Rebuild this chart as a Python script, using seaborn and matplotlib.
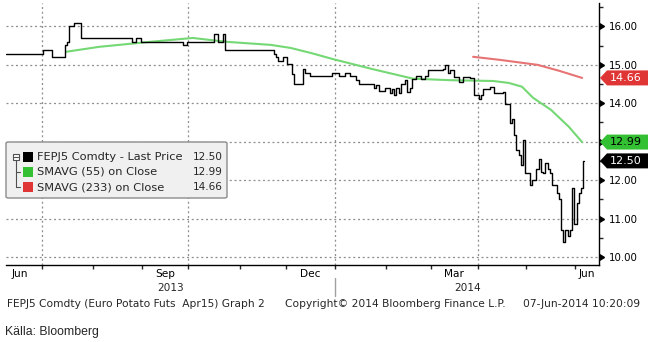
import numpy as np
import pandas as pd
import matplotlib
matplotlib.use("Agg")
import matplotlib.pyplot as plt
import matplotlib.transforms as mtransforms
import matplotlib.markers as mmarkers
from matplotlib.patches import FancyBboxPatch, Rectangle, Polygon
from matplotlib.lines import Line2D
import seaborn as sns

# ---------------- data ----------------
price_dates = [
    "2013-06-07", "2013-07-02", "2013-07-08", "2013-07-16", "2013-07-17", "2013-07-18", "2013-07-22", "2013-07-25",
    "2013-08-27", "2013-08-29", "2013-09-02", "2013-09-27", "2013-10-01", "2013-10-17", "2013-10-21", "2013-10-23", "2013-10-24",
    "2013-11-25", "2013-11-26", "2013-11-27", "2013-11-29", "2013-12-03", "2013-12-05", "2013-12-06", "2013-12-12", "2013-12-13",
    "2013-12-17", "2013-12-18", "2013-12-31",
    "2014-01-03", "2014-01-08", "2014-01-10", "2014-01-15", "2014-01-16", "2014-01-21", "2014-01-27", "2014-01-28", "2014-01-29",
    "2014-02-03", "2014-02-05", "2014-02-06", "2014-02-07", "2014-02-10", "2014-02-11", "2014-02-12", "2014-02-14", "2014-02-17",
    "2014-02-18", "2014-02-19", "2014-02-21", "2014-02-25", "2014-02-27", "2014-02-28",
    "2014-03-11", "2014-03-12", "2014-03-13", "2014-03-14", "2014-03-18", "2014-03-20", "2014-03-24", "2014-03-27", "2014-03-31",
    "2014-04-02", "2014-04-03", "2014-04-04", "2014-04-09", "2014-04-11", "2014-04-17", "2014-04-18", "2014-04-22", "2014-04-23",
    "2014-04-24", "2014-04-25", "2014-04-28", "2014-04-29", "2014-04-30",
    "2014-05-01", "2014-05-05", "2014-05-06", "2014-05-08", "2014-05-09", "2014-05-12", "2014-05-13", "2014-05-14", "2014-05-15",
    "2014-05-16", "2014-05-19", "2014-05-21", "2014-05-22", "2014-05-23", "2014-05-26", "2014-05-27", "2014-05-28", "2014-05-29",
    "2014-05-30",
    "2014-06-02", "2014-06-03", "2014-06-04", "2014-06-05", "2014-06-06",
]
price_values = [
    15.29, 15.38, 15.20, 15.51, 15.59, 16.01, 16.09, 15.69,
    15.59, 15.69, 15.59, 15.52, 15.59, 15.81, 15.59, 15.81, 15.38,
    15.28, 15.20, 15.10, 15.20, 15.02, 14.77, 14.50, 14.89, 14.80, 14.71, 14.72, 14.78,
    14.72, 14.80, 14.72, 14.60, 14.50, 14.51, 14.40, 14.47, 14.33,
    14.40, 14.28, 14.38, 14.22, 14.39, 14.28, 14.50, 14.60, 14.30, 14.41, 14.63, 14.71, 14.63, 14.71, 14.87,
    14.90, 15.00, 14.80, 14.87, 14.69, 14.56, 14.69, 14.66, 14.22,
    14.12, 14.22, 14.38, 14.43, 14.26, 14.30, 13.98, 13.49, 13.60, 13.18, 12.79, 12.66, 12.40, 13.05,
    12.19, 11.88, 12.00, 12.29, 12.55, 12.21, 12.19, 12.45, 12.29, 12.19, 11.88, 11.67, 11.50, 10.70, 10.39, 10.70, 10.55, 10.70, 11.80,
    10.85, 11.40, 11.67, 11.80, 12.50,
]

sma55_dates = ["2013-07-16", "2013-08-06", "2013-09-06", "2013-10-03", "2013-10-24", "2013-11-21", "2013-12-04",
               "2013-12-17", "2013-12-31", "2014-01-23", "2014-02-19", "2014-03-14", "2014-04-10", "2014-04-21",
               "2014-04-29", "2014-05-06", "2014-05-16", "2014-05-28", "2014-06-05"]
sma55_values = [15.34, 15.47, 15.60, 15.70, 15.60, 15.52, 15.44, 15.31, 15.15, 14.90, 14.64, 14.60, 14.58, 14.53,
                14.43, 14.14, 13.83, 13.39, 12.99]

sma233_dates = ["2014-03-28", "2014-04-15", "2014-05-08", "2014-05-22", "2014-06-05"]
sma233_values = [15.21, 15.13, 15.00, 14.84, 14.66]

legend_labels = ["FEPJ5 Comdty - Last Price", "SMAVG (55) on Close", "SMAVG (233) on Close"]
last_values = [12.50, 12.99, 14.66]
series_colors = ["#000000", "#33c133", "#e03535"]
line_colors = ["#000000", "#74d874", "#e77474"]

y_ticks = [10, 11, 12, 13, 14, 15, 16]
y_minor = [10.5, 11.5, 12.5, 13.5, 14.5, 15.5, 16.5]
month_labels = {"2013-06": "Jun", "2013-09": "Sep", "2013-12": "Dec", "2014-03": "Mar", "2014-06": "Jun"}
quarter_lines = ["2013-07-01", "2013-10-01", "2014-01-01", "2014-04-01"]

footer_left = "FEPJ5 Comdty (Euro Potato Futs  Apr15) Graph 2"
footer_mid = "Copyright\u00a9 2014 Bloomberg Finance L.P."
footer_right = "07-Jun-2014 10:20:09"
source_text = "K\u00e4lla: Bloomberg"

# ---------------- trading-day axis ----------------
days = pd.bdate_range("2013-06-07", "2014-06-06")
ext_days = pd.bdate_range("2013-06-01", "2014-07-01")
offset = ext_days.get_loc(days[0])


def pos(ds):
    return ext_days.get_indexer(pd.to_datetime(ds)) - offset


x_max = len(days) - 1 + 6.6

price = pd.Series(price_values, index=pd.to_datetime(price_dates)).reindex(days).ffill()
df_price = pd.DataFrame({"x": np.arange(len(days)), "y": price.values})
df_s55 = pd.DataFrame({"x": pos(sma55_dates), "y": sma55_values})
df_s233 = pd.DataFrame({"x": pos(sma233_dates), "y": sma233_values})

# ---------------- figure ----------------
sns.set_style("white")
plt.rcParams["font.family"] = ["DejaVu Sans"]
W, H = 648, 342
fig = plt.figure(figsize=(W / 100, H / 100), dpi=100)
ax = fig.add_axes([6 / W, 1 - 265 / H, (599 - 6) / W, (265 - 3) / H])

sns.lineplot(data=df_s55, x="x", y="y", ax=ax, color=line_colors[1], lw=1.5, estimator=None, zorder=3)
sns.lineplot(data=df_s233, x="x", y="y", ax=ax, color=line_colors[2], lw=1.5, estimator=None, zorder=3)
sns.lineplot(data=df_price, x="x", y="y", ax=ax, color=line_colors[0], lw=1.0, estimator=None,
             drawstyle="steps-mid", zorder=4)

ax.set_xlim(0, x_max)
ax.set_ylim(9.79, 16.61)
ax.set_xlabel("")
ax.set_ylabel("")

# spines
for s in ["left", "top"]:
    ax.spines[s].set_visible(False)
for s in ["right", "bottom"]:
    ax.spines[s].set_color("black")
    ax.spines[s].set_linewidth(1.0)

# y axis on the right (the 13.00 label sits under the SMA tag in the reference)
ax.yaxis.tick_right()
ax.set_yticks(y_ticks)
ax.set_yticklabels(["" if v == 13 else f"{v:.2f}" for v in y_ticks])
ax.set_yticks(y_minor, minor=True)
ax.tick_params(axis="y", which="major", right=True, left=False, length=5, width=1, pad=2,
               labelsize=7.4, colors="black", direction="out")
ax.tick_params(axis="y", which="minor", right=True, left=False, length=3, width=1, direction="out")
for t in ax.yaxis.get_major_ticks():
    t.tick2line.set_marker(mmarkers.CARETRIGHTBASE)
    t.tick2line.set_markersize(5)

# x axis: month ticks + centered labels
month_first = ext_days.to_series().groupby(ext_days.to_period("M")).first()
starts = {str(p): (ext_days.get_loc(d) - offset) for p, d in month_first.items()}
tick_pos = [v for v in starts.values() if 0 < v < x_max]
ax.set_xticks(tick_pos)
ax.set_xticklabels([""] * len(tick_pos))
periods = list(starts.keys())
lab_pos, lab_txt = [], []
for i, p in enumerate(periods[:-1]):
    if p in month_labels:
        a = starts[p]
        b = min(starts[periods[i + 1]], x_max)
        lab_pos.append((a + b) / 2)
        lab_txt.append(month_labels[p])
ax.set_xticks(lab_pos, minor=True)
ax.set_xticklabels(lab_txt, minor=True)
ax.tick_params(axis="x", which="major", length=3, width=1, direction="out", bottom=True)
ax.tick_params(axis="x", which="minor", length=0, pad=3, labelsize=7.6, colors="black")

# grid
for v in y_ticks:
    ax.axhline(v, color="#8f8f8f", lw=0.9, ls=(0, (1.6, 2.2)), zorder=1)
for q in pos(quarter_lines):
    ax.axvline(q, color="#8f8f8f", lw=0.9, ls=(0, (1.6, 2.2)), zorder=1)

# year labels and separator
blend = mtransforms.blended_transform_factory(ax.transData, ax.transAxes)
jan1 = pos(["2014-01-01"])[0]
ax.text(jan1 / 2, -0.088, "2013", transform=blend, ha="center", va="center", fontsize=7.6)
ax.text((jan1 + x_max) / 2, -0.088, "2014", transform=blend, ha="center", va="center", fontsize=7.6)
ax.add_line(Line2D([jan1, jan1], [-0.05, -0.12], transform=blend, color="#a0a0a0", lw=1, clip_on=False))


# helper: pixel (from top-left) -> figure fraction
def fx(x):
    return x / W


def fy(y):
    return 1 - y / H


# value tags on the right
fig.canvas.draw()
text_cols = ["white", "black", "white"]
for val, col, tcol in zip(last_values, series_colors, text_cols):
    _, ydisp = ax.transData.transform((0, val))
    yc = H - ydisp
    hh = 7.5
    poly = Polygon([(fx(600), fy(yc)), (fx(607), fy(yc - hh)), (fx(650), fy(yc - hh)),
                    (fx(650), fy(yc + hh)), (fx(607), fy(yc + hh))],
                   closed=True, transform=fig.transFigure, facecolor=col, edgecolor="none", zorder=5)
    fig.add_artist(poly)
    fig.text(fx(610), fy(yc), f"{val:.2f}", color=tcol, fontsize=8, va="center", ha="left", zorder=6)

# legend box
box = FancyBboxPatch((fx(6), fy(198)), fx(227) - fx(6), fy(142) - fy(198),
                     boxstyle="round,pad=0,rounding_size=0.004", transform=fig.transFigure,
                     facecolor="#f0f0f0", edgecolor="#8c8c8c", lw=1.0, zorder=6)
fig.add_artist(box)
row_y = [157, 172, 187]
# tree icon
fig.add_artist(Line2D([fx(15.5), fx(15.5)], [fy(160), fy(187)], transform=fig.transFigure, color="#505050", lw=0.8, zorder=7))
for ry in row_y[1:]:
    fig.add_artist(Line2D([fx(15.5), fx(20)], [fy(ry), fy(ry)], transform=fig.transFigure, color="#505050", lw=0.8, zorder=7))
fig.add_artist(Rectangle((fx(12.5), fy(160)), fx(6), fy(154) - fy(160), transform=fig.transFigure,
                         facecolor="white", edgecolor="#505050", lw=0.8, zorder=8))
fig.add_artist(Line2D([fx(13.5), fx(17.5)], [fy(157), fy(157)], transform=fig.transFigure, color="#505050", lw=0.8, zorder=9))
for ry, lab, val, col in zip(row_y, legend_labels, last_values, series_colors):
    fig.add_artist(Rectangle((fx(23), fy(ry + 5)), fx(10), fy(ry - 5) - fy(ry + 5), transform=fig.transFigure,
                             facecolor=col, edgecolor="none", zorder=8))
    fig.text(fx(37), fy(ry), lab, fontsize=8.2, va="center", ha="left", zorder=8)
    fig.text(fx(193), fy(ry), f"{val:.2f}", fontsize=7.6, va="center", ha="left", zorder=8)

# footer
fig.text(fx(7), fy(304), footer_left, fontsize=7.7, va="center", ha="left")
fig.text(fx(285), fy(304), footer_mid, fontsize=7.7, va="center", ha="left")
fig.text(fx(640), fy(304), footer_right, fontsize=7.7, va="center", ha="right")
fig.text(fx(5), fy(332), source_text, fontsize=8.8, va="center", ha="left", family=["Liberation Sans", "DejaVu Sans"])

fig.savefig("out.png", dpi=100)
